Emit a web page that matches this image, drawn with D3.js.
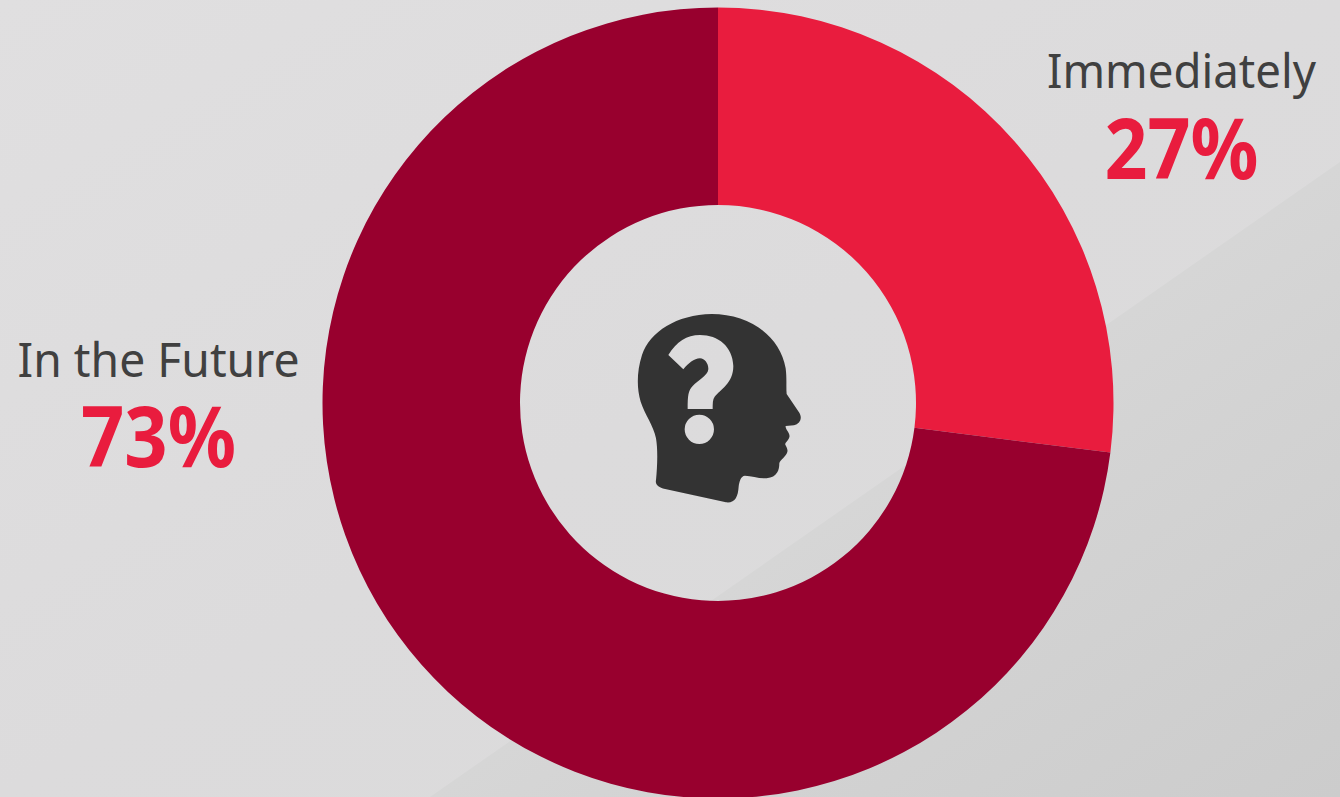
<!DOCTYPE html>
<html>
<head>
<meta charset="utf-8">
<style>
  html, body { margin: 0; padding: 0; background: #dddcdd; overflow: hidden; }
  text { font-family: "Noto Sans", "Open Sans", sans-serif; }
</style>
<script src="https://cdn.jsdelivr.net/npm/d3@7/dist/d3.min.js"></script>
</head>
<body>
<svg id="chart" width="1340" height="797"></svg>
<script>
const categories = ["Immediately", "In the Future"];
const shares = [27, 73];
const sliceColors = ["#e91c3e", "#98002e"];

const width = 1340, height = 797;
const cx = 718, cy = 403, outerR = 395.5, innerR = 198;

const svg = d3.select("#chart");
const defs = svg.append("defs");

// Soft two-tone backdrop: a lighter field and a darker wedge at lower right
const lightGrad = defs.append("linearGradient").attr("id", "bgLight")
  .attr("x1", "0").attr("y1", "0").attr("x2", "1").attr("y2", "1");
[[0, "#e0dfe0"], [0.5, "#dcdbdc"], [1, "#dadada"]].forEach(([o, c]) =>
  lightGrad.append("stop").attr("offset", o).attr("stop-color", c));

const darkGrad = defs.append("linearGradient").attr("id", "bgDark")
  .attr("gradientUnits", "userSpaceOnUse")
  .attr("x1", 800).attr("y1", 539).attr("x2", 1096).attr("y2", 965);
[[0, "#d6d6d6"], [0.27, "#d3d3d3"], [1, "#cccccc"]].forEach(([o, c]) =>
  darkGrad.append("stop").attr("offset", o).attr("stop-color", c));

svg.append("rect").attr("width", width).attr("height", height).attr("fill", "url(#bgLight)");
svg.append("path")
  .attr("d", d3.line()([[1340, 162], [1340, 797], [430, 797]]) + "Z")
  .attr("fill", "url(#bgDark)");

// Donut
const pie = d3.pie().sort(null).value(d => d);
const arc = d3.arc().innerRadius(innerR).outerRadius(outerR);

svg.append("g").attr("transform", `translate(${cx},${cy})`)
  .selectAll("path")
  .data(pie(shares))
  .join("path")
  .attr("d", arc)
  .attr("fill", (d, i) => sliceColors[i]);

// Labels: category name above its percentage, fitted to a set run length
const labelPos = [
  { x: 1181.5, yName: 88, yValue: 179, nameLen: 269, valueLen: 154 },
  { x: 158.5, yName: 377, yValue: 467, nameLen: 282, valueLen: 155 }
];

const labels = svg.append("g").selectAll("g")
  .data(categories)
  .join("g");

labels.append("text")
  .attr("x", (d, i) => labelPos[i].x)
  .attr("y", (d, i) => labelPos[i].yName)
  .attr("text-anchor", "middle")
  .attr("font-size", 47)
  .attr("textLength", (d, i) => labelPos[i].nameLen)
  .attr("lengthAdjust", "spacingAndGlyphs")
  .attr("fill", "#404040")
  .text(d => d);

labels.append("text")
  .attr("x", (d, i) => labelPos[i].x)
  .attr("y", (d, i) => labelPos[i].yValue)
  .attr("text-anchor", "middle")
  .attr("font-size", 84)
  .attr("font-weight", 700)
  .attr("textLength", (d, i) => labelPos[i].valueLen)
  .attr("lengthAdjust", "spacingAndGlyphs")
  .attr("fill", "#e91c3e")
  .text((d, i) => shares[i] + "%");

// Head silhouette with a question mark cut out, drawn in a 600x660 icon box
const headIcon = "M108 540 C112 500 114 450 108 415 C100 375 75 345 62 305 C50 265 50 215 66 165 " +
  "C90 95 170 44 275 42 C385 42 480 105 497 205 C501 235 498 262 500 282 L538 338 C548 355 540 372 522 376 " +
  "L497 378 C495 388 512 400 508 412 C506 422 494 428 496 434 C500 442 504 448 502 456 C498 470 480 480 478 490 " +
  "C478 510 472 532 440 535 C420 536 395 528 375 527 C362 528 358 545 356 560 C354 590 345 610 318 607 " +
  "L132 566 C115 562 105 552 108 540 Z " +
  "M145 165 L190 208 C205 190 222 175 240 175 C255 176 266 192 265 208 C263 228 235 240 218 258 " +
  "C205 272 203 285 203 327 L278 327 C278 310 278 298 284 290 C300 270 340 250 340 198 " +
  "C338 140 295 105 240 105 C200 105 170 125 145 165 Z " +
  "M238 344 A44 44 0 1 0 238.01 432 A44 44 0 1 0 238 344 Z";

svg.append("path")
  .attr("transform", "translate(620,300) scale(0.3333)")
  .attr("d", headIcon)
  .attr("fill-rule", "evenodd")
  .attr("fill", "#333333");
</script>
</body>
</html>
